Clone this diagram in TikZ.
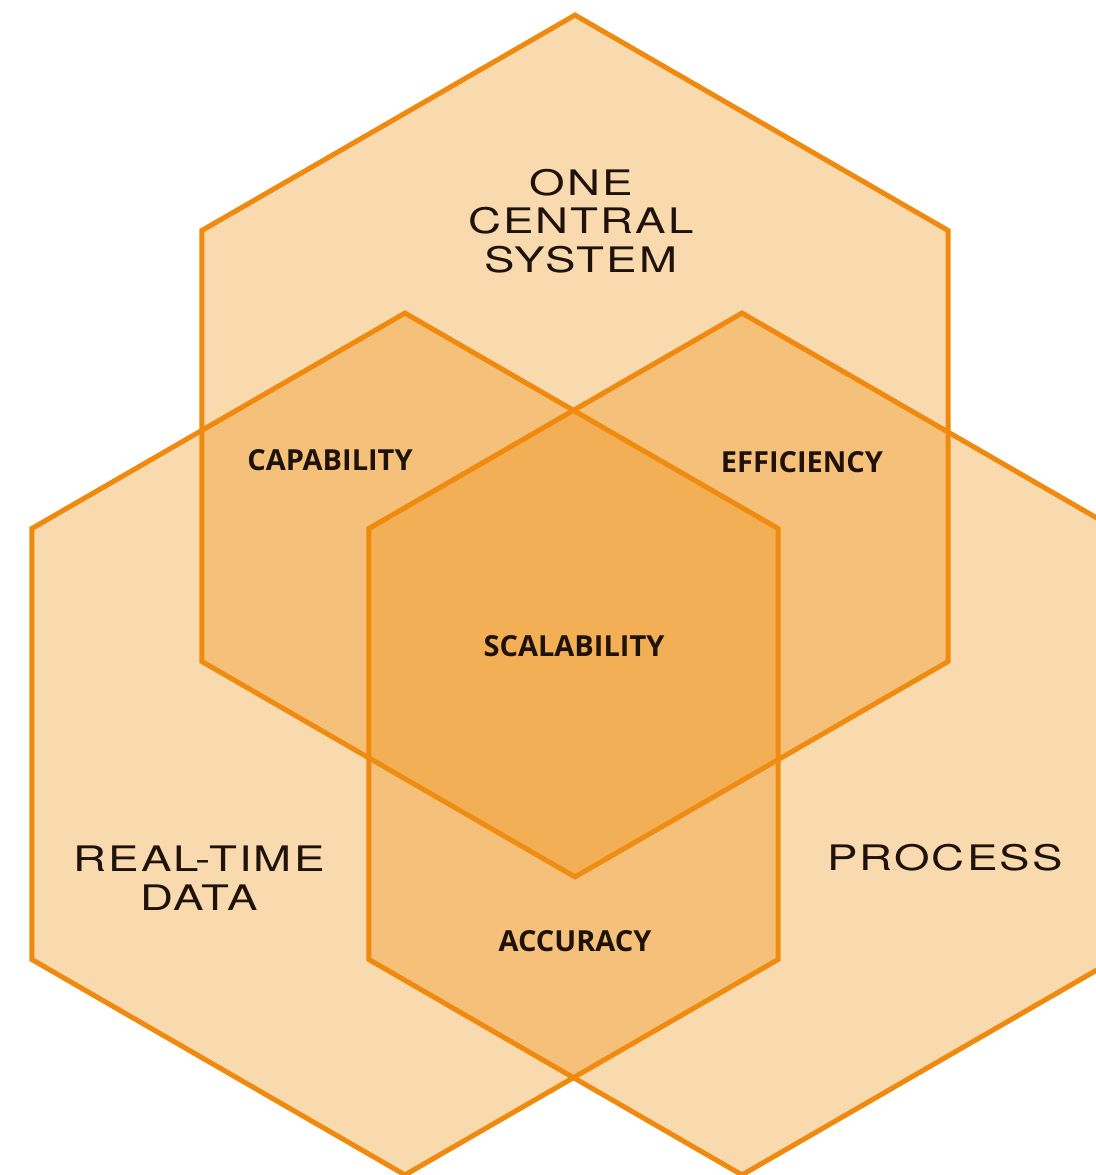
\documentclass[tikz,border=0pt]{standalone}
\usepackage{fontspec}
\setmainfont{Open Sans}
\newfontfamily\widefont[FakeStretch=1.3,LetterSpace=6]{TeX Gyre Heros}
\usepackage{tikz}
\usetikzlibrary{shapes.geometric}
\usetikzlibrary{positioning}
\definecolor{hexorange}{RGB}{238,145,22}
\definecolor{hexline}{RGB}{240,138,14}
\definecolor{labeltext}{RGB}{30,18,10}

\begin{document}
\begin{tikzpicture}
		[
			x = 0.02cm, y = -0.02cm,
			hexagon/.style = {regular polygon, regular polygon sides = 6, regular polygon rotate = 30, minimum size = 17.24cm, inner sep = 0cm, outer sep = 0cm, fill = hexorange, fill opacity = 0.35, draw = hexline, draw opacity = 1, line width = 0.1cm},
			title/.style = {align = center, font = \widefont\fontsize{20}{22}\selectfont, text = labeltext},
			overlap/.style = {font = \bfseries\fontsize{16.5}{18}\selectfont, text = labeltext},
		]
			%
			\useasboundingbox (0,0) rectangle (1095,1175);
			\node (system) [hexagon] at (575,446) {};
			\node (realtime) [hexagon] at (405,744) {};
			\node (process) [hexagon] at (742,744) {};
			%
			\node (systemlabel) [title] at (581,221) {ONE\\CENTRAL\\SYSTEM};
			\node (realtimelabel) [title] at (199,878) {REAL-TIME\\DATA};
			\node (processlabel) [title] at (945,858) {PROCESS};
			%
			\node (capability) [overlap] at (330,460) {CAPABILITY};
			\node (efficiency) [overlap] at (802,462) {EFFICIENCY};
			\node (scalability) [overlap] at (574,646) {SCALABILITY};
			\node (accuracy) [overlap] at (575,941) {ACCURACY};
			%
		\end{tikzpicture}
\end{document}
